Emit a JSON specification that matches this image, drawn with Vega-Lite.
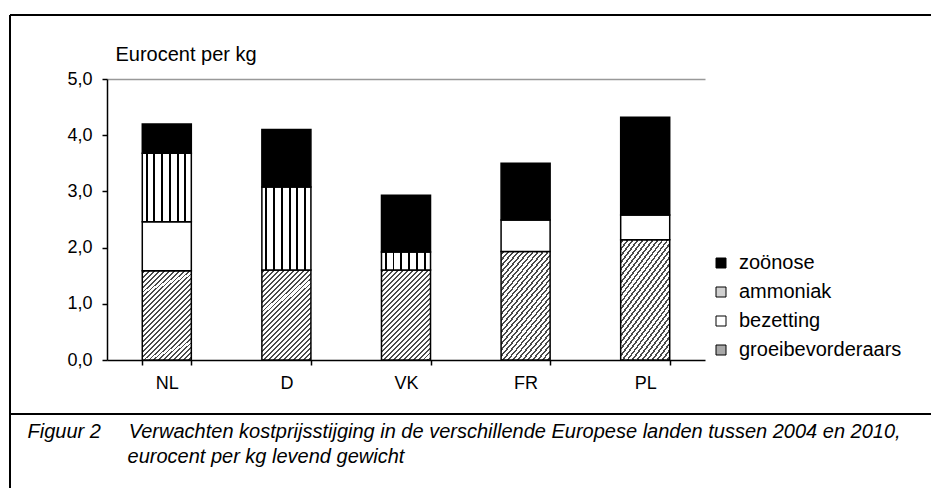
{
  "$schema": "https://vega.github.io/schema/vega-lite/v6.json",
  "width": 598,
  "height": 281,
  "autosize": {"type": "none"},
  "padding": {"left": 107, "top": 79, "right": 226, "bottom": 128},
  "background": "white",
  "config": {
    "view": {"stroke": null},
    "font": "Liberation Sans",
    "axis": {"labelFont": "Liberation Sans", "titleFont": "Liberation Sans", "labelColor": "black", "titleColor": "black"},
    "legend": {"labelFont": "Liberation Sans"}
  },
  "layer": [
    {
      "data": {
        "values": [
          {"land": "NL", "cat": "groeibevorderaars", "k": 1, "v": 1.59},
          {"land": "NL", "cat": "bezetting", "k": 2, "v": 0.87},
          {"land": "NL", "cat": "ammoniak", "k": 3, "v": 1.22},
          {"land": "NL", "cat": "zoönose", "k": 4, "v": 0.52},
          {"land": "D", "cat": "groeibevorderaars", "k": 1, "v": 1.6},
          {"land": "D", "cat": "ammoniak", "k": 3, "v": 1.48},
          {"land": "D", "cat": "zoönose", "k": 4, "v": 1.02},
          {"land": "VK", "cat": "groeibevorderaars", "k": 1, "v": 1.6},
          {"land": "VK", "cat": "ammoniak", "k": 3, "v": 0.32},
          {"land": "VK", "cat": "zoönose", "k": 4, "v": 1.01},
          {"land": "FR", "cat": "groeibevorderaars", "k": 1, "v": 1.93},
          {"land": "FR", "cat": "bezetting", "k": 2, "v": 0.56},
          {"land": "FR", "cat": "zoönose", "k": 4, "v": 1.01},
          {"land": "PL", "cat": "groeibevorderaars", "k": 1, "v": 2.14},
          {"land": "PL", "cat": "bezetting", "k": 2, "v": 0.44},
          {"land": "PL", "cat": "zoönose", "k": 4, "v": 1.74}
        ]
      },
      "mark": {"type": "bar", "stroke": "black", "strokeWidth": 1.5},
      "encoding": {
        "x": {
          "field": "land", "type": "nominal", "sort": ["NL", "D", "VK", "FR", "PL"],
          "scale": {"paddingInner": 0.59, "paddingOuter": 0.295},
          "axis": {
            "labelAngle": 0, "labelFontSize": 18, "labelPadding": 9,
            "domainColor": "black", "domainWidth": 1.5, "tickColor": "black", "tickSize": 5, "tickWidth": 1.5,
            "tickBand": "extent",
            "title": ["Figuur 2\u00a0\u00a0\u00a0\u00a0\u00a0Verwachten kostprijsstijging in de verschillende Europese landen tussen 2004 en 2010,", "\u200b\u00a0\u00a0\u00a0\u00a0\u00a0\u00a0\u00a0\u00a0\u00a0\u00a0\u00a0\u00a0\u00a0\u00a0\u00a0\u00a0\u00a0\u00a0eurocent per kg levend gewicht"],
            "titleFontSize": 20, "titleFontStyle": "italic", "titleFontWeight": "normal",
            "titleAlign": "left", "titleBaseline": "alphabetic", "titleX": -80, "titleY": 77, "titleLineHeight": 25
          }
        },
        "y": {
          "field": "v", "type": "quantitative", "stack": "zero",
          "scale": {"domain": [0, 5], "nice": false},
          "axis": {
            "values": [0, 1, 2, 3, 4, 5],
            "labelExpr": "replace(format(datum.value, '.1f'), '.', ',')",
            "labelFontSize": 18, "labelPadding": 10,
            "domainColor": "black", "domainWidth": 1.5, "tickColor": "black", "tickSize": 5, "tickWidth": 1.5,
            "grid": true, "gridColor": "#999999", "gridWidth": 1.5,
            "gridOpacity": {"condition": {"test": "datum.value === 5", "value": 1}, "value": 0},
            "title": "Eurocent per kg", "titleAngle": 0, "titleFontSize": 20, "titleFontWeight": "normal",
            "titleAlign": "left", "titleBaseline": "alphabetic", "titleX": 8, "titleY": -19
          }
        },
        "order": {"field": "k", "type": "quantitative"},
        "fill": {
          "field": "cat", "type": "nominal",
          "scale": {"domain": ["zoönose", "ammoniak", "bezetting", "groeibevorderaars"], "range": ["black", "#d0d0d0", "white", "#a8a8a8"]},
          "legend": {
            "orient": "none", "legendX": 604, "legendY": 174, "title": null,
            "symbolType": "square", "symbolSize": 100, "symbolStrokeColor": "black", "symbolStrokeWidth": 1,
            "labelFontSize": 20, "labelColor": "black", "rowPadding": 9, "labelOffset": 8, "labelLimit": 0,
            "encode": {
              "symbols": {
                "enter": {
                  "stroke": {"value": "black"},
                  "strokeWidth": {"value": 1}
                },
                "update": {
                  "stroke": {"value": "black"},
                  "strokeWidth": {"value": 1},
                  "fill": [
                    {"test": "datum.value === 'ammoniak'", "value": {"gradient": "linear", "x1": 0, "y1": 0, "x2": 1, "y2": 0, "stops": [
                      {"offset": 0, "color": "white"},
                      {"offset": 0.28, "color": "white"}, {"offset": 0.28, "color": "black"}, {"offset": 0.42, "color": "black"}, {"offset": 0.42, "color": "white"},
                      {"offset": 0.6, "color": "white"}, {"offset": 0.6, "color": "black"}, {"offset": 0.74, "color": "black"}, {"offset": 0.74, "color": "white"},
                      {"offset": 1, "color": "white"}]}},
                    {"test": "datum.value === 'groeibevorderaars'", "value": "#a8a8a8"},
                    {"test": "datum.value === 'zoönose'", "value": "black"},
                    {"value": "white"}
                  ]
                }
              }
            }
          },
          "condition": [
            {"test": "datum.cat === 'ammoniak'", "value": {"gradient": "linear", "x1": 0, "y1": 0, "x2": 1, "y2": 0, "stops": [
              {"offset": 0, "color": "white"},
              {"offset": 0.07, "color": "white"}, {"offset": 0.07, "color": "black"}, {"offset": 0.11, "color": "black"}, {"offset": 0.11, "color": "white"},
              {"offset": 0.225, "color": "white"}, {"offset": 0.225, "color": "black"}, {"offset": 0.265, "color": "black"}, {"offset": 0.265, "color": "white"},
              {"offset": 0.385, "color": "white"}, {"offset": 0.385, "color": "black"}, {"offset": 0.425, "color": "black"}, {"offset": 0.425, "color": "white"},
              {"offset": 0.545, "color": "white"}, {"offset": 0.545, "color": "black"}, {"offset": 0.585, "color": "black"}, {"offset": 0.585, "color": "white"},
              {"offset": 0.705, "color": "white"}, {"offset": 0.705, "color": "black"}, {"offset": 0.745, "color": "black"}, {"offset": 0.745, "color": "white"},
              {"offset": 0.86, "color": "white"}, {"offset": 0.86, "color": "black"}, {"offset": 0.9, "color": "black"}, {"offset": 0.9, "color": "white"},
              {"offset": 1, "color": "white"}]}},
            {"test": "datum.cat === 'groeibevorderaars'", "value": {"gradient": "linear", "x1": 0, "y1": 0, "x2": 0.648, "y2": 1.192, "stops": [
              {"offset": 0, "color": "#ffffff"},
              {"offset": 0.01, "color": "#ffffff"}, {"offset": 0.01, "color": "#4a4a4a"}, {"offset": 0.024, "color": "#4a4a4a"}, {"offset": 0.024, "color": "#ffffff"},
              {"offset": 0.0457, "color": "#ffffff"}, {"offset": 0.0457, "color": "#4a4a4a"}, {"offset": 0.0597, "color": "#4a4a4a"}, {"offset": 0.0597, "color": "#ffffff"},
              {"offset": 0.0814, "color": "#ffffff"}, {"offset": 0.0814, "color": "#4a4a4a"}, {"offset": 0.0954, "color": "#4a4a4a"}, {"offset": 0.0954, "color": "#ffffff"},
              {"offset": 0.1171, "color": "#ffffff"}, {"offset": 0.1171, "color": "#4a4a4a"}, {"offset": 0.1311, "color": "#4a4a4a"}, {"offset": 0.1311, "color": "#ffffff"},
              {"offset": 0.1529, "color": "#ffffff"}, {"offset": 0.1529, "color": "#4a4a4a"}, {"offset": 0.1669, "color": "#4a4a4a"}, {"offset": 0.1669, "color": "#ffffff"},
              {"offset": 0.1886, "color": "#ffffff"}, {"offset": 0.1886, "color": "#4a4a4a"}, {"offset": 0.2026, "color": "#4a4a4a"}, {"offset": 0.2026, "color": "#ffffff"},
              {"offset": 0.2243, "color": "#ffffff"}, {"offset": 0.2243, "color": "#4a4a4a"}, {"offset": 0.2383, "color": "#4a4a4a"}, {"offset": 0.2383, "color": "#ffffff"},
              {"offset": 0.26, "color": "#ffffff"}, {"offset": 0.26, "color": "#4a4a4a"}, {"offset": 0.274, "color": "#4a4a4a"}, {"offset": 0.274, "color": "#ffffff"},
              {"offset": 0.2957, "color": "#ffffff"}, {"offset": 0.2957, "color": "#4a4a4a"}, {"offset": 0.3097, "color": "#4a4a4a"}, {"offset": 0.3097, "color": "#ffffff"},
              {"offset": 0.3314, "color": "#ffffff"}, {"offset": 0.3314, "color": "#4a4a4a"}, {"offset": 0.3454, "color": "#4a4a4a"}, {"offset": 0.3454, "color": "#ffffff"},
              {"offset": 0.3671, "color": "#ffffff"}, {"offset": 0.3671, "color": "#4a4a4a"}, {"offset": 0.3811, "color": "#4a4a4a"}, {"offset": 0.3811, "color": "#ffffff"},
              {"offset": 0.4029, "color": "#ffffff"}, {"offset": 0.4029, "color": "#4a4a4a"}, {"offset": 0.4169, "color": "#4a4a4a"}, {"offset": 0.4169, "color": "#ffffff"},
              {"offset": 0.4386, "color": "#ffffff"}, {"offset": 0.4386, "color": "#4a4a4a"}, {"offset": 0.4526, "color": "#4a4a4a"}, {"offset": 0.4526, "color": "#ffffff"},
              {"offset": 0.4743, "color": "#ffffff"}, {"offset": 0.4743, "color": "#4a4a4a"}, {"offset": 0.4883, "color": "#4a4a4a"}, {"offset": 0.4883, "color": "#ffffff"},
              {"offset": 0.51, "color": "#ffffff"}, {"offset": 0.51, "color": "#4a4a4a"}, {"offset": 0.524, "color": "#4a4a4a"}, {"offset": 0.524, "color": "#ffffff"},
              {"offset": 0.5457, "color": "#ffffff"}, {"offset": 0.5457, "color": "#4a4a4a"}, {"offset": 0.5597, "color": "#4a4a4a"}, {"offset": 0.5597, "color": "#ffffff"},
              {"offset": 0.5814, "color": "#ffffff"}, {"offset": 0.5814, "color": "#4a4a4a"}, {"offset": 0.5954, "color": "#4a4a4a"}, {"offset": 0.5954, "color": "#ffffff"},
              {"offset": 0.6171, "color": "#ffffff"}, {"offset": 0.6171, "color": "#4a4a4a"}, {"offset": 0.6311, "color": "#4a4a4a"}, {"offset": 0.6311, "color": "#ffffff"},
              {"offset": 0.6529, "color": "#ffffff"}, {"offset": 0.6529, "color": "#4a4a4a"}, {"offset": 0.6669, "color": "#4a4a4a"}, {"offset": 0.6669, "color": "#ffffff"},
              {"offset": 0.6886, "color": "#ffffff"}, {"offset": 0.6886, "color": "#4a4a4a"}, {"offset": 0.7026, "color": "#4a4a4a"}, {"offset": 0.7026, "color": "#ffffff"},
              {"offset": 0.7243, "color": "#ffffff"}, {"offset": 0.7243, "color": "#4a4a4a"}, {"offset": 0.7383, "color": "#4a4a4a"}, {"offset": 0.7383, "color": "#ffffff"},
              {"offset": 0.76, "color": "#ffffff"}, {"offset": 0.76, "color": "#4a4a4a"}, {"offset": 0.774, "color": "#4a4a4a"}, {"offset": 0.774, "color": "#ffffff"},
              {"offset": 0.7957, "color": "#ffffff"}, {"offset": 0.7957, "color": "#4a4a4a"}, {"offset": 0.8097, "color": "#4a4a4a"}, {"offset": 0.8097, "color": "#ffffff"},
              {"offset": 0.8314, "color": "#ffffff"}, {"offset": 0.8314, "color": "#4a4a4a"}, {"offset": 0.8454, "color": "#4a4a4a"}, {"offset": 0.8454, "color": "#ffffff"},
              {"offset": 0.8671, "color": "#ffffff"}, {"offset": 0.8671, "color": "#4a4a4a"}, {"offset": 0.8811, "color": "#4a4a4a"}, {"offset": 0.8811, "color": "#ffffff"},
              {"offset": 0.9029, "color": "#ffffff"}, {"offset": 0.9029, "color": "#4a4a4a"}, {"offset": 0.9169, "color": "#4a4a4a"}, {"offset": 0.9169, "color": "#ffffff"},
              {"offset": 0.9386, "color": "#ffffff"}, {"offset": 0.9386, "color": "#4a4a4a"}, {"offset": 0.9526, "color": "#4a4a4a"}, {"offset": 0.9526, "color": "#ffffff"},
              {"offset": 0.9743, "color": "#ffffff"}, {"offset": 0.9743, "color": "#4a4a4a"}, {"offset": 0.9883, "color": "#4a4a4a"}, {"offset": 0.9883, "color": "#ffffff"},
              {"offset": 1, "color": "#ffffff"}]}}
          ]
        }
      }
    },
    {
      "data": {"values": [{"edge": "top"}]},
      "mark": {"type": "rule", "color": "black", "strokeWidth": 2},
      "encoding": {"x": {"value": -97}, "x2": {"value": 824}, "y": {"value": -64}}
    },
    {
      "data": {"values": [{"edge": "left"}]},
      "mark": {"type": "rule", "color": "black", "strokeWidth": 2},
      "encoding": {"x": {"value": -97}, "y": {"value": -64}, "y2": {"value": 409}}
    },
    {
      "data": {"values": [{"edge": "separator"}]},
      "mark": {"type": "rule", "color": "black", "strokeWidth": 2},
      "encoding": {"x": {"value": -97}, "x2": {"value": 824}, "y": {"value": 335}}
    }
  ]
}
